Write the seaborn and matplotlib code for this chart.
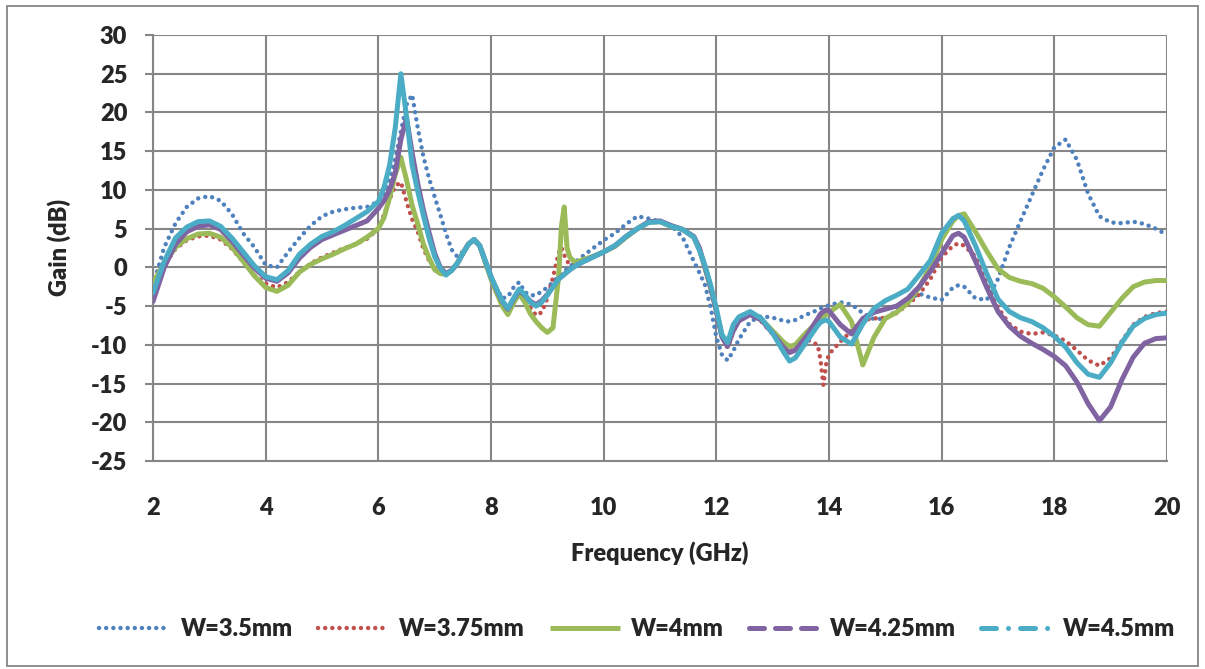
import matplotlib
matplotlib.use("Agg")
import matplotlib.pyplot as plt
from matplotlib.lines import Line2D
from matplotlib.patches import Rectangle
import seaborn as sns
import pandas as pd

# ---------------- data ----------------
freq_ghz = [
    2.0, 2.2, 2.4, 2.6, 2.8, 3.0, 3.2, 3.4, 3.6, 3.8,
    4.0, 4.2, 4.4, 4.6, 4.8, 5.0, 5.2, 5.4, 5.6, 5.8,
    6.0, 6.1, 6.2, 6.3, 6.4, 6.5, 6.6, 6.7, 6.8, 6.9,
    7.0, 7.1, 7.2, 7.3, 7.4, 7.5, 7.6, 7.7, 7.8, 7.9,
    8.0, 8.1, 8.2, 8.3, 8.4, 8.5, 8.6, 8.7, 8.8, 8.9,
    9.0, 9.1, 9.2, 9.25, 9.3, 9.35, 9.4, 9.5, 9.6, 9.8,
    10.0, 10.2, 10.4, 10.6, 10.8, 11.0, 11.2, 11.4, 11.6, 11.7,
    11.8, 11.9, 12.0, 12.1, 12.2, 12.3, 12.4, 12.6, 12.8, 13.0,
    13.2, 13.3, 13.4, 13.6, 13.8, 13.85, 13.9, 13.95, 14.0, 14.2,
    14.4, 14.6, 14.8, 15.0, 15.2, 15.4, 15.6, 15.8, 16.0, 16.2,
    16.3, 16.4, 16.6, 16.8, 17.0, 17.2, 17.4, 17.6, 17.8, 18.0,
    18.2, 18.4, 18.6, 18.8, 19.0, 19.2, 19.4, 19.6, 19.8, 20.0,
]

gain_w350 = [
    -2.3, 2.6, 5.7, 7.8, 8.9, 9.2, 8.6, 6.9, 4.4, 2.6,
    0.3, 0.0, 2.0, 3.8, 5.4, 6.6, 7.2, 7.5, 7.7, 7.8,
    8.5, 9.5, 11.2, 14.0, 17.5, 21.0, 22.3, 18.0, 14.3, 11.5,
    9.1, 6.8, 4.4, 2.3, 1.4, 2.0, 3.0, 3.6, 2.8, 0.9,
    -1.2, -2.8, -4.0, -3.8, -2.6, -1.9, -3.2, -3.6, -3.6, -3.1,
    -2.6, -1.9, -1.2, -0.9, -0.5, -0.2, 0.1, 0.7, 1.3, 2.4,
    3.5, 4.4, 5.6, 6.6, 6.3, 5.9, 5.4, 3.9, 0.8, -0.7,
    -2.3, -5.2, -9.0, -11.3, -12.0, -10.8, -9.3, -7.0, -6.3, -6.5,
    -6.9, -7.0, -6.8, -6.1, -5.5, -5.3, -5.1, -5.0, -4.9, -4.5,
    -4.8, -5.9, -6.7, -6.6, -5.6, -4.2, -3.4, -3.9, -4.2, -2.6,
    -2.3, -2.5, -4.0, -4.2, -1.5, 2.6, 6.0, 9.3, 12.6, 15.5,
    16.5, 13.9, 9.5, 6.6, 5.8, 5.7, 5.9, 5.6, 5.0, 4.2,
]

gain_w375 = [
    -2.5, 0.3, 2.4, 3.5, 4.0, 4.1, 3.6, 2.4, 0.7, -1.0,
    -2.1, -2.6, -1.9, -0.6, 0.5, 1.3, 1.9, 2.5, 3.0, 3.7,
    5.0, 6.8, 8.8, 10.5, 11.0, 8.5, 6.2, 4.6, 2.4, 0.9,
    -0.2, -0.7, -0.8, -0.4, 0.5, 1.8, 3.0, 3.5, 2.7, 0.7,
    -1.3, -3.0, -4.6, -5.4, -4.2, -3.2, -4.0, -5.2, -6.2, -5.8,
    -4.0, -1.3, 1.8, 2.6, 1.6, 0.8, 0.4, 0.3, 0.6, 1.3,
    2.0, 2.7, 3.9, 5.0, 5.8, 5.9, 5.3, 4.9, 3.9, 2.3,
    -0.1, -2.8, -5.8, -9.0, -10.4, -8.3, -6.9, -6.1, -7.0, -8.6,
    -10.4, -10.8, -10.6, -9.3, -10.0, -12.0, -15.2, -12.5, -11.2, -9.6,
    -8.2, -6.8, -6.6, -6.5, -5.9, -4.8, -3.5, -1.5, 1.3, 2.8,
    3.1, 2.8, 1.4, -2.1, -5.2, -7.3, -8.3, -8.6, -8.4, -8.8,
    -9.5, -10.7, -12.0, -12.7, -11.7, -9.5, -7.4, -6.4, -5.9, -5.7,
]

gain_w400 = [
    -2.0, 0.5, 2.6, 3.7, 4.3, 4.4, 3.9, 2.6, 0.8, -1.1,
    -2.6, -3.1, -2.3, -0.6, 0.4, 1.1, 1.7, 2.4, 3.0, 3.9,
    5.0, 6.4, 9.0, 12.0, 14.2, 11.3, 8.0, 5.6, 3.0, 1.2,
    -0.3, -0.8, -0.9, -0.4, 0.5, 1.8, 3.0, 3.6, 2.8, 0.6,
    -1.5, -3.3, -5.0, -6.1, -4.6, -3.4, -4.5, -6.0, -7.0, -7.8,
    -8.4, -7.8, -1.2, 5.3, 7.8, 2.5, 1.3, 0.6, 0.9, 1.4,
    2.0, 2.7, 3.9, 5.0, 5.8, 5.9, 5.3, 4.9, 3.9, 2.3,
    -0.1, -2.7, -5.6, -8.8, -10.0, -8.0, -6.8, -6.0, -6.7, -8.2,
    -9.7, -10.2, -10.0, -8.4, -7.0, -6.7, -6.4, -6.1, -5.8, -4.8,
    -7.0, -12.6, -9.0, -6.6, -5.8, -4.6, -2.6, 0.1, 3.6, 6.0,
    6.7, 6.9, 4.6, 2.1, -0.2, -1.3, -1.8, -2.1, -2.7, -3.8,
    -5.1, -6.5, -7.4, -7.6, -5.8, -4.0, -2.5, -1.9, -1.7, -1.7,
]

gain_w425 = [
    -4.4, 0.0, 3.0, 4.6, 5.3, 5.5, 4.9, 3.4, 1.6, -0.1,
    -1.4, -1.8, -0.7, 1.2, 2.6, 3.6, 4.2, 4.8, 5.4, 6.0,
    7.6, 8.6, 10.0, 12.2, 16.5, 19.3, 14.8, 10.8, 7.4, 4.5,
    1.8, 0.0, -0.8, -0.4, 0.5, 1.8, 3.0, 3.6, 2.8, 0.8,
    -1.2, -2.9, -4.4, -5.4, -4.1, -3.0, -3.6, -4.4, -4.8, -4.3,
    -3.5, -2.5, -1.5, -1.2, -0.9, -0.6, -0.3, 0.2, 0.6, 1.3,
    2.0, 2.8, 4.0, 5.0, 5.9, 6.0, 5.4, 4.9, 4.0, 2.5,
    0.0, -2.6, -5.6, -9.0, -10.2, -8.2, -6.9, -6.1, -6.8, -8.5,
    -10.4, -11.0, -10.7, -8.9, -6.6, -6.0, -5.7, -5.5, -5.6, -7.4,
    -8.6, -6.6, -5.8, -5.4, -5.0, -4.0, -2.5, -0.5, 1.8, 4.1,
    4.4, 3.9, 0.8, -2.6, -5.7, -7.6, -8.9, -9.8, -10.6, -11.5,
    -12.7, -14.8, -17.6, -19.8, -18.0, -14.5, -11.6, -9.8, -9.2, -9.1,
]

gain_w450 = [
    -3.3, 0.8, 3.8, 5.2, 5.9, 6.0, 5.3, 3.8, 2.0, 0.2,
    -1.2, -1.6, -0.4, 1.7, 3.0, 4.0, 4.6, 5.4, 6.3, 7.2,
    8.5, 10.3, 13.2, 18.0, 25.0, 19.5, 13.2, 9.8, 6.7, 3.8,
    1.4, -0.1, -1.0, -0.4, 0.5, 1.8, 3.0, 3.6, 2.8, 0.8,
    -1.2, -2.8, -4.3, -5.3, -4.0, -2.8, -3.5, -4.5, -5.0, -4.5,
    -3.6, -2.5, -1.5, -1.2, -0.9, -0.6, -0.3, 0.2, 0.6, 1.3,
    2.0, 2.8, 4.0, 5.0, 5.8, 5.9, 5.3, 4.9, 3.9, 2.2,
    0.2, -2.3, -5.3, -8.7, -9.7, -7.4, -6.4, -5.7, -6.6, -8.5,
    -11.0, -12.1, -11.7, -9.6, -7.5, -7.1, -6.9, -6.8, -7.0, -9.0,
    -9.9, -7.3, -5.3, -4.3, -3.6, -2.8, -1.0, 0.9, 4.4, 6.3,
    6.7, 6.0, 2.8, -0.8, -4.1, -5.7, -6.5, -7.0, -7.8, -8.9,
    -10.3, -12.3, -13.8, -14.2, -12.3, -9.7, -7.6, -6.6, -6.1, -5.9,
]

series_labels = ["W=3.5mm", "W=3.75mm", "W=4mm", "W=4.25mm", "W=4.5mm"]
x_ticks = [2, 4, 6, 8, 10, 12, 14, 16, 18, 20]
y_ticks = [-25, -20, -15, -10, -5, 0, 5, 10, 15, 20, 25, 30]

# ---------------- styling ----------------
sns.set_theme(style="white")
plt.rcParams["font.family"] = ["Lato", "DejaVu Sans"]
plt.rcParams["font.weight"] = "heavy"

colors = ["#4F81BD", "#C0504D", "#9BBB59", "#8064A2", "#4BACC6"]
grid_c = "#868686"
FS = 17
FW = "heavy"

fig = plt.figure(figsize=(12.05, 6.69), dpi=100)
W, H = 1205, 669
ax = fig.add_axes([153 / W, 1 - 461 / H, (1167 - 153) / W, (461 - 35) / H])

df = pd.DataFrame({"freq": freq_ghz, "W=3.5mm": gain_w350, "W=3.75mm": gain_w375,
                   "W=4mm": gain_w400, "W=4.25mm": gain_w425, "W=4.5mm": gain_w450})

dot = (0, (0.01, 1.6))
plot_styles = [
    dict(lw=3.2, linestyle=dot, dash_capstyle="round"),
    dict(lw=3.2, linestyle=dot, dash_capstyle="round"),
    dict(lw=3.6, linestyle="-", solid_capstyle="round", solid_joinstyle="round"),
    dict(lw=3.6, linestyle="-", solid_capstyle="round", solid_joinstyle="round"),
    dict(lw=3.6, linestyle="-", solid_capstyle="round", solid_joinstyle="round"),
]
legend_styles = [
    dict(lw=3.2, linestyle=dot, dash_capstyle="round"),
    dict(lw=3.2, linestyle=dot, dash_capstyle="round"),
    dict(lw=3.6, linestyle="-", solid_capstyle="butt"),
    dict(lw=3.6, linestyle=(0, (3.0, 2.2)), dash_capstyle="round"),
    dict(lw=3.6, linestyle=(0, (3.0, 2.4, 0.01, 2.4)), dash_capstyle="round"),
]

for i, lab in enumerate(series_labels):
    sns.lineplot(data=df, x="freq", y=lab, ax=ax, color=colors[i],
                 estimator=None, errorbar=None, sort=False, legend=False,
                 zorder=3 + i, **plot_styles[i])

ax.set_xlim(2, 20)
ax.set_ylim(-25, 30)
ax.set_xticks(x_ticks)
ax.set_yticks(y_ticks)
ax.set_xticklabels([str(v) for v in x_ticks], fontsize=FS, fontweight=FW)
ax.set_yticklabels([str(v) for v in y_ticks], fontsize=FS, fontweight=FW)
ax.grid(True, color=grid_c, lw=1.5, zorder=0)
ax.set_axisbelow(True)
for s in ["top", "right"]:
    ax.spines[s].set_visible(False)
for s in ["left", "bottom"]:
    ax.spines[s].set_color(grid_c)
    ax.spines[s].set_linewidth(1.5)
ax.tick_params(axis="y", direction="out", length=5.5, width=1.5, color=grid_c,
               pad=13, left=True)
ax.tick_params(axis="x", length=0, pad=26)

ax.set_xlabel("Frequency (GHz)", fontsize=FS, fontweight=FW)
ax.xaxis.set_label_coords(0.5, (461 - 553) / 426)
ax.xaxis.label.set_verticalalignment("center")
ax.set_ylabel("Gain (dB)", fontsize=FS, fontweight=FW)
ax.yaxis.set_label_coords((59 - 153) / 1014, 0.5)
ax.yaxis.label.set_verticalalignment("center")

handles = [Line2D([], [], color=colors[i], **legend_styles[i]) for i in range(5)]
fig.legend(handles, series_labels, loc="center", ncol=5, frameon=False,
           bbox_to_anchor=(637 / W, 1 - 629 / H), prop=dict(size=FS, weight=FW),
           handlelength=3.0, handletextpad=0.45, columnspacing=1.05)

fig.add_artist(Rectangle((7 / W, 3 / H), (1198 - 7) / W, (663 - 3) / H,
                         transform=fig.transFigure, fill=False,
                         edgecolor=grid_c, lw=1.3))

fig.savefig("out.png", dpi=100)
